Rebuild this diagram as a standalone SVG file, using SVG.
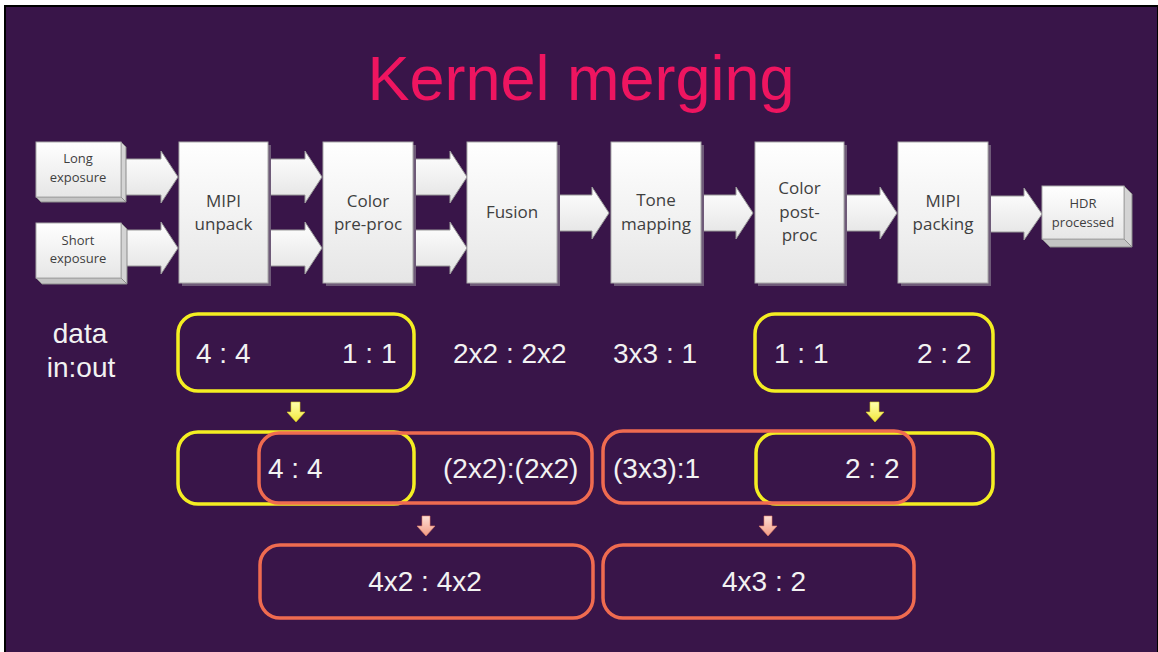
<svg xmlns="http://www.w3.org/2000/svg" width="1158" height="652" viewBox="0 0 1158 652">
<defs>
<linearGradient id="boxg" x1="0" y1="0" x2="0" y2="1">
<stop offset="0" stop-color="#ffffff"/><stop offset="1" stop-color="#e6e6e6"/>
</linearGradient>
<linearGradient id="arrg" x1="0" y1="0" x2="0" y2="1">
<stop offset="0" stop-color="#ffffff"/><stop offset="1" stop-color="#e3e3e3"/>
</linearGradient>
<linearGradient id="yarr" x1="0" y1="0" x2="0" y2="1">
<stop offset="0" stop-color="#ffffb0"/><stop offset="1" stop-color="#f2e83a"/>
</linearGradient>
<linearGradient id="oarr" x1="0" y1="0" x2="0" y2="1">
<stop offset="0" stop-color="#fde0d6"/><stop offset="1" stop-color="#f39a83"/>
</linearGradient>
<style>
.box{fill:url(#boxg);stroke:#a9a9a9;stroke-width:1}
.shadow{fill:#6e5a78}
.side{fill:#d4d4d4;stroke:#8c8c8c;stroke-width:1}
.bottom{fill:#c4c4c4;stroke:#8c8c8c;stroke-width:1}
.lbl{font-family:"Open Sans","Noto Sans",sans-serif;font-size:17px;fill:#3f3f3f;text-anchor:middle}
.sm{font-size:13px}
.arr{fill:url(#arrg);stroke:#9a9a9a;stroke-width:1}
.ybox{fill:none;stroke:#f4ee22;stroke-width:3.5}
.obox{fill:none;stroke:#ef6b50;stroke-width:3.5}
.dt{font-family:"Liberation Sans",Arial,sans-serif;font-size:28px;fill:#f2f2f2}
.ya{fill:url(#yarr);stroke:#d8cc20;stroke-width:0.6}
.oa{fill:url(#oarr);stroke:#e0806a;stroke-width:0.6}
</style>
</defs>
<rect width="1158" height="652" fill="#ffffff"/>
<rect x="4" y="5" width="1154" height="647" fill="#000000"/>
<rect x="6" y="7" width="1151" height="645" fill="#391549"/>
<text x="581" y="100" font-family="Liberation Sans,Arial,sans-serif" font-size="63" fill="#ee1560" text-anchor="middle">Kernel merging</text>

<g id="connectors">
<path class="arr" d="M123,159 H161 V151 L178,177 L161,203 V195 H123 Z"/>
<path class="arr" d="M123,230 H161 V222 L178,248 L161,274 V266 H123 Z"/>
<path class="arr" d="M269,159 H305 V151 L322,177 L305,203 V195 H269 Z"/>
<path class="arr" d="M269,230 H305 V222 L322,248 L305,274 V266 H269 Z"/>
<path class="arr" d="M413,159 H450 V151 L467,177 L450,203 V195 H413 Z"/>
<path class="arr" d="M413,230 H450 V222 L467,248 L450,274 V266 H413 Z"/>
<path class="arr" d="M557,195 H592 V187 L609,213 L592,239 V231 H557 Z"/>
<path class="arr" d="M701,195 H736 V187 L753,213 L736,239 V231 H701 Z"/>
<path class="arr" d="M844,195 H880 V187 L897,213 L880,239 V231 H844 Z"/>
<path class="arr" d="M988,196 H1024 V188 L1042,214 L1024,240 V232 H988 Z"/>
<path class="ya" d="M291,402 H300 V412 H305 L296,422 L287,412 H291 Z"/>
<path class="ya" d="M870,402 H879 V412 H884 L875,422 L866,412 H870 Z"/>
<path class="oa" d="M422,516 H430 V526 H435 L426,536 L417,526 H422 Z"/>
<path class="oa" d="M764,516 H772 V526 H777 L768,536 L759,526 H764 Z"/>
</g>

<g id="long-exposure">
<polygon class="side" points="121,142 126,147 126,202 121,197"/>
<polygon class="bottom" points="36,197 121,197 126,202 41,202"/>
<rect class="box" x="36" y="142" width="85" height="55"/>
<text class="lbl sm" x="78" y="163">Long</text>
<text class="lbl sm" x="78" y="182">exposure</text>
</g>
<g id="short-exposure">
<polygon class="side" points="121,223 127,229 127,284 121,278"/>
<polygon class="bottom" points="36,278 121,278 127,284 42,284"/>
<rect class="box" x="36" y="223" width="85" height="55"/>
<text class="lbl sm" x="78" y="245">Short</text>
<text class="lbl sm" x="78" y="263">exposure</text>
</g>
<g id="mipi-unpack">
<rect class="shadow" x="182" y="145" width="89" height="141"/>
<rect class="box" x="179" y="142" width="89" height="141"/>
<text class="lbl" x="223.5" y="207">MIPI</text>
<text class="lbl" x="223.5" y="230">unpack</text>
</g>
<g id="color-pre-proc">
<rect class="shadow" x="326" y="145" width="90" height="141"/>
<rect class="box" x="323" y="142" width="90" height="141"/>
<text class="lbl" x="368" y="207">Color</text>
<text class="lbl" x="368" y="230">pre-proc</text>
</g>
<g id="fusion">
<rect class="shadow" x="470" y="145" width="90" height="141"/>
<rect class="box" x="467" y="142" width="90" height="141"/>
<text class="lbl" x="512" y="218">Fusion</text>
</g>
<g id="tone-mapping">
<rect class="shadow" x="614" y="145" width="90" height="141"/>
<rect class="box" x="611" y="142" width="90" height="141"/>
<text class="lbl" x="656" y="206">Tone</text>
<text class="lbl" x="656" y="230">mapping</text>
</g>
<g id="color-post-proc">
<rect class="shadow" x="758" y="145" width="89" height="141"/>
<rect class="box" x="755" y="142" width="89" height="141"/>
<text class="lbl" x="799.5" y="194">Color</text>
<text class="lbl" x="799.5" y="218">post-</text>
<text class="lbl" x="799.5" y="241">proc</text>
</g>
<g id="mipi-packing">
<rect class="shadow" x="901" y="145" width="90" height="141"/>
<rect class="box" x="898" y="142" width="90" height="141"/>
<text class="lbl" x="943" y="207">MIPI</text>
<text class="lbl" x="943" y="230">packing</text>
</g>
<g id="hdr-processed">
<polygon class="side" points="1124,186 1132,194 1132,247 1124,239"/>
<polygon class="bottom" points="1042,239 1124,239 1132,247 1050,247"/>
<rect class="box" x="1042" y="186" width="82" height="53"/>
<text class="lbl sm" x="1083" y="208">HDR</text>
<text class="lbl sm" x="1083" y="227">processed</text>
</g>

<g id="data-label">
<text class="dt" x="80" y="343" text-anchor="middle" font-size="26">data</text>
<text class="dt" x="81" y="377" text-anchor="middle" font-size="26">in:out</text>
</g>

<g id="row1-left">
<rect class="ybox" x="178" y="314" width="236" height="77" rx="20"/>
<text class="dt" x="196" y="363">4 : 4</text>
<text class="dt" x="342" y="363">1 : 1</text>
</g>
<g id="row1-fusion"><text class="dt" x="453" y="363">2x2 : 2x2</text></g>
<g id="row1-tone"><text class="dt" x="613" y="363">3x3 : 1</text></g>
<g id="row1-right">
<rect class="ybox" x="755" y="314" width="238" height="77" rx="20"/>
<text class="dt" x="774" y="363">1 : 1</text>
<text class="dt" x="917" y="363">2 : 2</text>
</g>

<g id="row2-left">
<rect class="ybox" x="178" y="432" width="236" height="72" rx="20"/>
<rect class="obox" x="259" y="433" width="333" height="70" rx="20"/>
<text class="dt" x="268" y="478">4 : 4</text>
<text class="dt" x="443" y="478">(2x2):(2x2)</text>
</g>
<g id="row2-right">
<rect class="ybox" x="756" y="433" width="237" height="71" rx="20"/>
<rect class="obox" x="603" y="431" width="311" height="72" rx="20"/>
<text class="dt" x="613" y="478">(3x3):1</text>
<text class="dt" x="845" y="478">2 : 2</text>
</g>

<g id="row3-left">
<rect class="obox" x="260" y="545" width="333" height="73" rx="20"/>
<text class="dt" x="425" y="591" text-anchor="middle" font-size="29">4x2 : 4x2</text>
</g>
<g id="row3-right">
<rect class="obox" x="603" y="545" width="311" height="73" rx="20"/>
<text class="dt" x="764" y="591" text-anchor="middle" font-size="29">4x3 : 2</text>
</g>
</svg>
